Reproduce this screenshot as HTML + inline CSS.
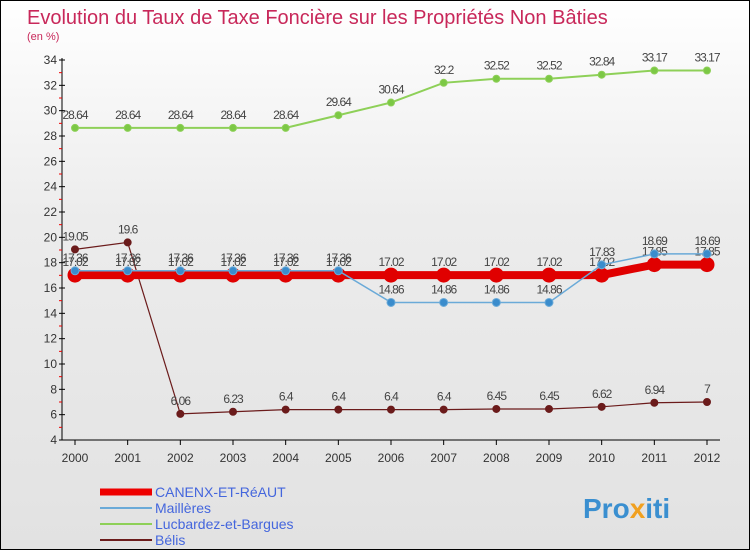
<!DOCTYPE html>
<html><head><meta charset="utf-8"><style>
body{margin:0;width:750px;height:550px;overflow:hidden;font-family:"Liberation Sans",sans-serif}
</style></head><body>
<svg id="c" width="750" height="550" xmlns="http://www.w3.org/2000/svg">
<defs><linearGradient id="bg" x1="0" y1="0" x2="0" y2="1"><stop offset="0" stop-color="#ffffff"/><stop offset="0.4" stop-color="#ececec"/><stop offset="1" stop-color="#e2e2e2"/></linearGradient></defs>
<rect x="0.5" y="0.5" width="749" height="549" fill="url(#bg)" stroke="#000"/>
<text x="27" y="24" font-size="20" fill="#c8285a">Evolution du Taux de Taxe Foncière sur les Propriétés Non Bâties</text>
<text x="27" y="40" font-size="11" fill="#c8285a">(en %)</text>
<g id="axes"></g><g id="series"></g>
<g>
<line x1="100" y1="492" x2="152" y2="492" stroke="#e00" stroke-width="7"/>
<text x="155" y="497" font-size="14" fill="#4466dd">CANENX-ET-RéAUT</text>
<line x1="100" y1="508" x2="152" y2="508" stroke="#6aaad8" stroke-width="2"/>
<text x="155" y="513" font-size="14" fill="#4466dd">Maillères</text>
<line x1="100" y1="524" x2="152" y2="524" stroke="#8ed058" stroke-width="2"/>
<text x="155" y="529" font-size="14" fill="#4466dd">Lucbardez-et-Bargues</text>
<line x1="100" y1="540" x2="152" y2="540" stroke="#6b1b1b" stroke-width="2"/>
<text x="155" y="545" font-size="14" fill="#4466dd">Bélis</text>
</g>
<text x="583" y="518" font-size="28" font-weight="bold" fill="#3a8fd0">Pro<tspan fill="#f0a020">x</tspan>iti</text>
</svg>
<script>
const years=[2000,2001,2002,2003,2004,2005,2006,2007,2008,2009,2010,2011,2012];
const yTicks=[4,6,8,10,12,14,16,18,20,22,24,26,28,30,32,34];
const canenx=[17.02,17.02,17.02,17.02,17.02,17.02,17.02,17.02,17.02,17.02,17.02,17.85,17.85];
const mailleres=[17.36,17.36,17.36,17.36,17.36,17.36,14.86,14.86,14.86,14.86,17.83,18.69,18.69];
const lucbardez=[28.64,28.64,28.64,28.64,28.64,29.64,30.64,32.2,32.52,32.52,32.84,33.17,33.17];
const belis=[19.05,19.6,6.06,6.23,6.4,6.4,6.4,6.4,6.45,6.45,6.62,6.94,7];
const NS="http://www.w3.org/2000/svg";
const xS=y=>75+(y-2000)*(632/12);
const yS=v=>440-(v-4)*(380/30);
function mk(p,t,a){const e=document.createElementNS(NS,t);for(const k in a)e.setAttribute(k,a[k]);p.appendChild(e);return e;}
const ax=document.getElementById('axes');
let l=mk(ax,'line',{x1:62,y1:58,x2:62,y2:440,stroke:'#000'});


l=mk(ax,'line',{x1:62,y1:440,x2:720,y2:440,stroke:'#000'});


yTicks.forEach(v=>{const y=yS(v);mk(ax,'line',{x1:59,y1:y,x2:65,y2:y,stroke:'#000'});
if(v<34)mk(ax,'line',{x1:59,y1:yS(v+1),x2:62,y2:yS(v+1),stroke:'#e00'});
const t=mk(ax,'text',{x:57,y:y+4,'font-size':12,fill:'#333','text-anchor':'end'});t.textContent=v;

});
years.forEach(yr=>{const x=xS(yr);mk(ax,'line',{x1:x,y1:440,x2:x,y2:445,stroke:'#000'});
const t=mk(ax,'text',{x:x,y:462,'font-size':12,fill:'#333','text-anchor':'middle'});t.textContent=yr;

});
const sg=document.getElementById('series');
function draw(name,vals,col,w,r,dot){
const g=mk(sg,'g',{});


mk(g,'polyline',{points:vals.map((v,i)=>xS(years[i])+','+yS(v)).join(' '),fill:'none',stroke:col,'stroke-width':w});
vals.forEach((v,i)=>{const c=mk(g,'circle',{cx:xS(years[i]),cy:yS(v),r:r,fill:dot,stroke:col,'stroke-width':1});


const t=mk(g,'text',{x:xS(years[i]),y:yS(v)-9,'font-size':12,fill:'#444','text-anchor':'middle','letter-spacing':'-1'});t.textContent=v;});}
draw('series-lucbardez',lucbardez,'#8ed058',2,3.5,'#7cc845');
draw('series-belis',belis,'#6b1b1b',1.2,3.5,'#6b1b1b');
draw('series-canenx',canenx,'#e00000',8,7,'#e00000');
draw('series-mailleres',mailleres,'#6aaad8',1.5,4,'#3a8ccc');
</script>
</body></html>
